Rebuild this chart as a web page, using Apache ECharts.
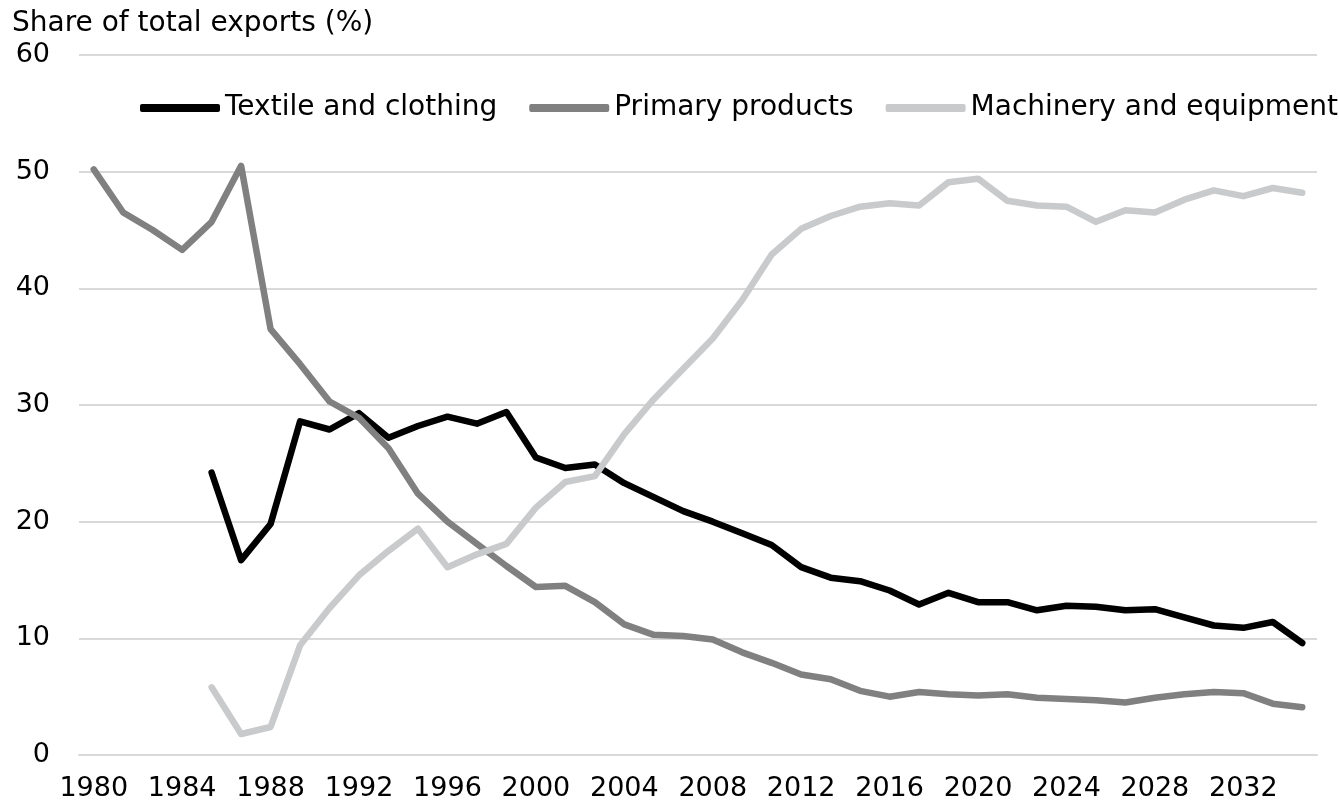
<!DOCTYPE html>
<html>
<head>
<meta charset="utf-8">
<script src="https://cdn.jsdelivr.net/npm/echarts@6/dist/echarts.min.js"></script>
<style>
  html, body { margin: 0; padding: 0; background: #fff; }
  #chart { width: 1339px; height: 802px; }
</style>
</head>
<body>
<div id="chart"></div>
<script>
  // x labels shown on every third point
  var tickLabels = ['1980', '1984', '1988', '1992', '1996', '2000', '2004', '2008',
    '2012', '2016', '2020', '2024', '2028', '2032']
  var pointCount = 42

  var textile = [null, null, null, null,
    24.2, 16.7, 19.8, 28.6, 27.9, 29.3, 27.2, 28.2, 29.0, 28.4,
    29.4, 25.5, 24.6, 24.9, 23.3, 22.1, 20.9, 20.0, 19.0, 18.0,
    16.1, 15.2, 14.9, 14.1, 12.9, 13.9, 13.1, 13.1, 12.4, 12.8,
    12.7, 12.4, 12.5, 11.8, 11.1, 10.9, 11.4, 9.6]

  var primary = [50.2, 46.5, 45.0, 43.3, 45.7, 50.5, 36.5, 33.5, 30.3, 28.9,
    26.3, 22.4, 20.0, 18.1, 16.2, 14.4, 14.5, 13.1, 11.2, 10.3,
    10.2, 9.9, 8.8, 7.9, 6.9, 6.5, 5.5, 5.0, 5.4, 5.2,
    5.1, 5.2, 4.9, 4.8, 4.7, 4.5, 4.9, 5.2, 5.4, 5.3,
    4.4, 4.1]

  var machinery = [null, null, null, null,
    5.8, 1.8, 2.4, 9.4, 12.6, 15.4, 17.5, 19.4, 16.1, 17.2,
    18.1, 21.2, 23.4, 23.9, 27.5, 30.5, 33.1, 35.7, 39.0, 42.9,
    45.1, 46.2, 47.0, 47.3, 47.1, 49.1, 49.4, 47.5, 47.1, 47.0,
    45.7, 46.7, 46.5, 47.6, 48.4, 47.9, 48.6, 48.2]

  var categories = []
  for (var i = 0; i < pointCount; i++) {
    categories.push(i % 3 === 0 ? tickLabels[i / 3] : '')
  }

  var font = 'DejaVu Sans'
  var chart = echarts.init(document.getElementById('chart'))
  var option = {
    animation: false,
    title: {
      text: 'Share of total exports (%)',
      left: 12,
      top: 10,
      padding: 0,
      textStyle: { fontFamily: font, fontSize: 28, fontWeight: 'normal', color: '#000' }
    },
    legend: {
      left: 140,
      top: 94,
      padding: 0,
      itemGap: 32,
      itemWidth: 80,
      itemHeight: 8,
      icon: 'roundRect',
      textStyle: { fontFamily: font, fontSize: 28, color: '#000' },
      data: ['Textile and clothing', 'Primary products', 'Machinery and equipment']
    },
    grid: { left: 79, right: 22, top: 55, bottom: 45 },
    xAxis: {
      type: 'category',
      data: categories,
      boundaryGap: true,
      axisLine: { lineStyle: { color: '#d9d9d9', width: 2 } },
      axisTick: { show: false },
      axisLabel: {
        interval: 2,
        margin: 20,
        fontFamily: font,
        fontSize: 27,
        color: '#000'
      }
    },
    yAxis: {
      type: 'value',
      min: 0,
      max: 60,
      interval: 10,
      axisLine: { show: false },
      axisTick: { show: false },
      axisLabel: { margin: 29, fontFamily: font, fontSize: 27, color: '#000' },
      splitLine: { lineStyle: { color: '#d9d9d9', width: 2 } }
    },
    series: [
      {
        name: 'Textile and clothing',
        type: 'line',
        data: textile,
        showSymbol: false,
        itemStyle: { color: '#000000' },
        lineStyle: { color: '#000000', width: 6.5, cap: 'round', join: 'round' }
      },
      {
        name: 'Primary products',
        type: 'line',
        data: primary,
        showSymbol: false,
        itemStyle: { color: '#808080' },
        lineStyle: { color: '#808080', width: 6.5, cap: 'round', join: 'round' }
      },
      {
        name: 'Machinery and equipment',
        type: 'line',
        data: machinery,
        showSymbol: false,
        itemStyle: { color: '#c9cacb' },
        lineStyle: { color: '#c9cacb', width: 6.5, cap: 'round', join: 'round' }
      }
    ]
  }
  chart.setOption(option)
</script>
</body>
</html>
